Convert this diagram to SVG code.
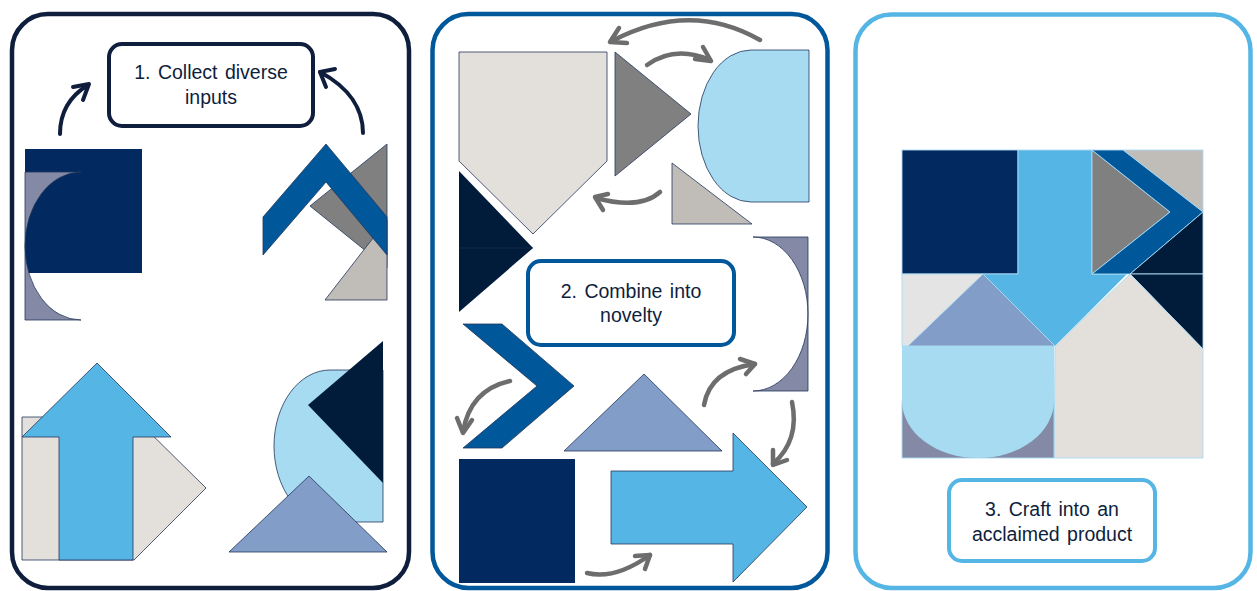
<svg xmlns="http://www.w3.org/2000/svg" width="1257" height="591" viewBox="0 0 1257 591">
<style>
.panel{fill:#ffffff;stroke-width:4.5}
.box{fill:#ffffff;stroke-width:4}
.lbl{font-family:"Liberation Sans",Arial,sans-serif;font-size:19.5px;fill:#0e1e3c;text-anchor:middle;word-spacing:2px}
.sh{stroke:#23365a;stroke-width:0.8;stroke-linejoin:miter}
.pc{stroke:#a9daf2;stroke-width:0.9}
.navy{fill:#022a60}
.dark{fill:#011b3b}
.blue{fill:#00589b}
.sky{fill:#55b5e5}
.pale{fill:#a6dbf2}
.gray{fill:#808080}
.taupe{fill:#c0bcb8}
.beige{fill:#e3e0dc}
.bgray{fill:#829dc7}
.slate{fill:#8489a6}
.lgray{fill:#e4e4e4}
.arr1{fill:none;stroke:#0e1e3c;stroke-width:4;stroke-linecap:round;stroke-linejoin:round}
.arr2{fill:none;stroke:#6d6d6d;stroke-width:4.5;stroke-linecap:round;stroke-linejoin:round}
</style>

<g id="panel1">
  <rect class="panel" x="12" y="14" width="397" height="574" rx="36" stroke="#0e1e3c"/>
  <g id="p1-topleft">
    <rect class="navy" x="25" y="149" width="117" height="124"/>
    <path class="slate sh" d="M25,172 L81,172 A56,74 0 0 0 81,320 L25,320 Z"/>
  </g>
  <g id="p1-topright">
    <polygon class="gray sh" points="387,144 310,206 387,268"/>
    <polygon class="taupe sh" points="387,220 325,300 387,300"/>
    <polygon class="blue sh" points="326,144 387,217 387,255 326,182 263,255 263,217"/>
  </g>
  <g id="p1-bottomleft">
    <polygon class="beige sh" points="22,417 134,417 206,488 134,560 22,560"/>
    <polygon class="sky sh" points="97,363 171,437 133,437 133,560 59,560 59,437 22,437"/>
  </g>
  <g id="p1-bottomright">
    <path class="pale sh" d="M330,370 L383,370 L383,522 L330,522 A56,76 0 0 1 330,370 Z"/>
    <polygon class="dark" points="383,341 308,405 383,483"/>
    <polygon class="bgray sh" points="309,476 229,552 387,552"/>
  </g>
  <g id="label1">
    <rect class="box" x="109" y="44" width="204" height="82" rx="13" stroke="#0e1e3c"/>
    <text class="lbl" x="211" y="79">1. Collect diverse</text>
    <text class="lbl" x="211" y="104">inputs</text>
  </g>
</g>

<g id="panel2">
  <rect class="panel" x="432.5" y="14" width="395" height="574" rx="36" stroke="#00589b"/>
  <g id="p2-shapes">
    <polygon class="beige sh" points="459,52 607,52 607,161 533,234 459,161"/>
    <polygon class="gray sh" points="615,52 691,114 615,176"/>
    <path class="pale sh" d="M751,50 L809,50 L809,202 L751,202 A53,76 0 0 1 751,50 Z"/>
    <polygon class="taupe sh" points="672,163 672,224 752,224"/>
    <polygon class="dark" points="459,171 533,248 459,312"/>
    <line x1="459" y1="248" x2="533" y2="248" stroke="#1d3050" stroke-width="0.7"/>
    <path class="slate sh" d="M753,237 L808,237 L808,391 L753,391 A55,77 0 0 0 753,237 Z"/>
    <polygon class="blue sh" points="463,324 502,324 574,386 502,448 463,448 537,386"/>
    <polygon class="bgray sh" points="644,374 564,451 722,451"/>
    <polygon class="sky sh" points="611,471 733,471 733,433 807,507 733,582 733,544 611,544"/>
    <rect class="navy" x="459" y="459" width="116" height="124"/>
  </g>
  <g id="label2">
    <rect class="box" x="528" y="261" width="206" height="84" rx="13" stroke="#00589b"/>
    <text class="lbl" x="631" y="298">2. Combine into</text>
    <text class="lbl" x="631" y="322">novelty</text>
  </g>
</g>

<g id="panel3">
  <rect class="panel" x="855.5" y="14.5" width="395" height="573.5" rx="36" stroke="#55b5e5"/>
  <g id="product">
    <rect class="navy pc" x="902" y="150" width="116" height="124"/>
    <rect class="lgray pc" x="902" y="274" width="80" height="72"/>
    <polygon class="sky pc" points="1018,150 1092,150 1092,274 1127,274 1055,346 982,274 1018,274"/>
    <polygon class="taupe pc" points="1123,150 1203,150 1203,212"/>
    <polygon class="gray pc" points="1092,150 1170,212 1092,274"/>
    <polygon class="blue pc" points="1092,150 1123,150 1203,212 1130,274 1092,274 1170,212"/>
    <polygon class="dark pc" points="1203,212 1203,274 1130,274"/>
    <polygon class="dark pc" points="1130,274 1203,274 1203,349"/>
    <polygon class="bgray pc" points="983,274 908,346 1055,346"/>
    <polygon class="beige pc" points="1055,346 1130,274 1203,349 1203,458 1054,458"/>
    <rect class="slate pc" x="902" y="401" width="152" height="57"/>
    <path class="pale" d="M902,346 L1054,346 L1054,401 A76,57 0 0 1 902,401 Z"/>
  </g>
  <g id="label3">
    <rect class="box" x="949" y="480" width="206" height="81" rx="13" stroke="#55b5e5"/>
    <text class="lbl" x="1052" y="516">3. Craft into an</text>
    <text class="lbl" x="1052" y="541">acclaimed product</text>
  </g>
</g>

<g id="connectors">
  <path class="arr1" d="M60,134 C60,112 70,96 88,85"/>
  <polyline class="arr1" points="73,87 89,84 83,100"/>
  <path class="arr1" d="M363,133 C363,110 350,88 320,72"/>
  <polyline class="arr1" points="335,69 320,72 326,87"/>

  <path class="arr2" d="M760,40 Q690,0 612,41"/>
  <polyline class="arr2" points="619,28 610,42 627,43"/>
  <path class="arr2" d="M647,65 Q675,45 710,60"/>
  <polyline class="arr2" points="703,47 711,61 695,59"/>
  <path class="arr2" d="M660,192 Q640,210 596,198"/>
  <polyline class="arr2" points="608,194 595,197 603,210"/>
  <path class="arr2" d="M510,381 Q470,390 463,432"/>
  <polyline class="arr2" points="457,418 463,433 472,420"/>
  <path class="arr2" d="M704,405 Q710,370 755,364"/>
  <polyline class="arr2" points="740,359 755,364 746,374"/>
  <path class="arr2" d="M792,402 Q800,440 773,464"/>
  <polyline class="arr2" points="773,450 773,465 787,460"/>
  <path class="arr2" d="M587,573 Q615,580 650,555"/>
  <polyline class="arr2" points="635,556 650,555 645,569"/>
</g>
</svg>
